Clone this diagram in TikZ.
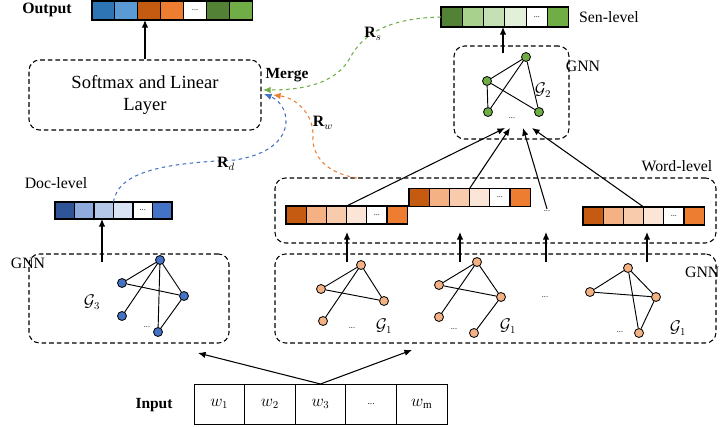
\documentclass[tikz,border=0pt]{standalone}
\usepackage{fontspec}
\setmainfont{Liberation Serif}
\usepackage{amsmath,amssymb}
\usetikzlibrary{arrows.meta}
\definecolor{dblue}{HTML}{2E75B6}
\definecolor{lblue}{HTML}{5B9BD5}
\definecolor{dorange}{HTML}{C55A11}
\definecolor{morange}{HTML}{ED7D31}
\definecolor{dgreen}{HTML}{538135}
\definecolor{mgreen}{HTML}{70AD47}
\definecolor{or1}{HTML}{F4B183}
\definecolor{or2}{HTML}{F8CBAD}
\definecolor{or3}{HTML}{FBE5D6}
\definecolor{gr1}{HTML}{A9D18E}
\definecolor{gr2}{HTML}{C5E0B4}
\definecolor{gr3}{HTML}{E2F0D9}
\definecolor{bl0}{HTML}{2F5597}
\definecolor{bl1}{HTML}{8FAADC}
\definecolor{bl2}{HTML}{B4C7E7}
\definecolor{bl3}{HTML}{DAE3F3}
\definecolor{bl4}{HTML}{4472C4}
\newcommand{\celldots}{...}

\begin{document}
\begin{tikzpicture}[x=0.03cm, y=-0.03cm, thick,
        every node/.style={font=\fontsize{13.5}{16}\selectfont, inner sep=1pt},
        cell/.style={draw, line width=1pt, inner sep=0pt, outer sep=0pt,
            font=\fontsize{7}{8}\selectfont},
        dbox/.style={draw, line width=0.9pt, dash pattern=on 4pt off 2.5pt,
            rounded corners=9pt, inner sep=0pt},
        gnode/.style={circle, draw, line width=0.7pt, inner sep=0pt, minimum size=0.27cm},
        arr/.style={-{Latex[length=6.5pt,width=5.5pt]}, line width=0.9pt},
        curve/.style={-{Latex[length=6.5pt,width=5.5pt]}, line width=0.9pt, dashed},
        small/.style={font=\fontsize{7}{8}\selectfont}]
    \useasboundingbox (0,0) rectangle (722,427);

    % Output vector
    \node[font=\fontsize{13.5}{16}\selectfont\bfseries] (outlabel) at (47,10) {Output};
    \foreach \c/\t [count=\i] in {dblue/{}, lblue/{}, dorange/{}, morange/{}, white/\celldots, dgreen/{}, mgreen/{}}
        \node[cell, fill=\c, minimum width=0.687cm, minimum height=0.57cm] (out\i) at ({92+22.9*(\i-0.5)},10.5) {\t};

    % Softmax box
    \node[dbox, minimum width=6.96cm, minimum height=2.1cm, align=center,
        font=\fontsize{15.8}{19}\selectfont] (softmax) at (145,95) {Softmax and Linear\\Layer};
    \draw[arr] (softmax.north) -- (softmax.north |- out3.south);
    \node[font=\fontsize{13.2}{16}\selectfont\bfseries] (merge) at (287,75) {Merge};

    % Sen-level vector and G2
    \foreach \c/\t [count=\i] in {dgreen/{}, gr1/{}, gr2/{}, gr3/{}, white/\celldots, mgreen/{}}
        \node[cell, fill=\c, minimum width=0.64cm, minimum height=0.6cm] (sen\i) at ({441+21.3*(\i-0.5)},17) {\t};
    \node (senlabel) at (609,17) {Sen-level};
    \node[dbox, minimum width=3.45cm, minimum height=2.79cm] (g2box) at (511.5,92.5) {};
    \node (gnntop) at (583,66) {GNN};
    \coordinate (g2tail) at (503,53);
    \draw[arr] (g2tail) -- (g2tail |- sen1.south);
    \node[gnode, fill=mgreen] (ge1) at (526,57) {};
    \node[gnode, fill=mgreen] (ge2) at (487,81) {};
    \node[gnode, fill=mgreen] (ge3) at (488,112) {};
    \node[gnode, fill=mgreen] (ge4) at (539,112) {};
    \foreach \a/\b in {ge1/ge2, ge1/ge3, ge1/ge4, ge2/ge4, ge2/ge3}
        \draw[line width=0.8pt] (\a) -- (\b);
    \node[small] (gedots) at (512,118) {\celldots};
    \node (g2label) at (543,90) {$\mathcal{G}_2$};

    % Word-level vectors
    \node[dbox, minimum width=13.23cm, minimum height=1.95cm] (wordbox) at (495.5,210.5) {};
    \node (wordlabel) at (677,166) {Word-level};
    \foreach \v/\x/\y in {wa/286/215, wb/409/197.5, wc/583/216}
        \foreach \c/\t [count=\i] in {dorange/{}, or1/{}, or2/{}, or3/{}, white/\celldots, morange/{}}
            \node[cell, fill=\c, minimum width=0.606cm, minimum height=0.54cm] (\v\i) at ({\x+20.2*(\i-0.5)},\y) {\t};
    \node[small] (wdots) at (547,211) {\celldots};

    % Word vectors into G2
    \coordinate (t1) at (505,128);
    \coordinate (t2) at (510,128);
    \coordinate (t3) at (523,128);
    \coordinate (t4) at (532,128);
    \draw[arr] (wa4.north west) -- (t1);
    \draw[arr] (wb4.north west) -- (t2);
    \draw[arr] (wdots.north) -- (t3);
    \draw[arr] (wc4.north west) -- (t4);

    % GNN box with G1
    \node[dbox, minimum width=13.23cm, minimum height=2.67cm] (gnnbox) at (495.5,298.5) {};
    \node[anchor=east] (gnnright) at (721,272) {GNN};
    \foreach \x [count=\i] in {347, 460, 546, 647} {
        \coordinate (up\i) at (\x,262);
        \draw[arr] (up\i) -- ++(0,-30);
    }
    \node[gnode, fill=or1] (ga1) at (361,265) {};
    \node[gnode, fill=or1] (ga2) at (321,289) {};
    \node[gnode, fill=or1] (ga3) at (384,301) {};
    \node[gnode, fill=or1] (ga4) at (323,321) {};
    \node[gnode, fill=or1] (gb1) at (477,262) {};
    \node[gnode, fill=or1] (gb2) at (439,285) {};
    \node[gnode, fill=or1] (gb3) at (501,297) {};
    \node[gnode, fill=or1] (gb4) at (439,317) {};
    \node[gnode, fill=or1] (gb5) at (474,333) {};
    \node[gnode, fill=or1] (gc1) at (628,268) {};
    \node[gnode, fill=or1] (gc2) at (590,292) {};
    \node[gnode, fill=or1] (gc3) at (656,297) {};
    \node[gnode, fill=or1] (gc4) at (639,333) {};
    \foreach \a/\b in {ga1/ga2, ga1/ga3, ga2/ga3, ga1/ga4,
                      gb1/gb2, gb1/gb3, gb2/gb3, gb1/gb4, gb3/gb5,
                      gc1/gc2, gc2/gc3, gc1/gc3, gc1/gc4, gc3/gc4}
        \draw[line width=0.8pt] (\a) -- (\b);
    \node[small] (gadots) at (352,328) {\celldots};
    \node[small] (gbdots) at (454,329) {\celldots};
    \node[small] (gcdots) at (620,332) {\celldots};
    \node[small] (gmid) at (545,297) {\celldots};
    \node (g1a) at (384,326) {$\mathcal{G}_1$};
    \node (g1b) at (508,326) {$\mathcal{G}_1$};
    \node (g1c) at (678,328) {$\mathcal{G}_1$};

    % Doc-level and G3
    \node (doclabel) at (56,183) {Doc-level};
    \foreach \c/\t [count=\i] in {bl0/{}, bl1/{}, bl2/{}, bl3/{}, white/\celldots, bl4/{}}
        \node[cell, fill=\c, minimum width=0.585cm, minimum height=0.51cm] (doc\i) at ({55+19.5*(\i-0.5)},210.5) {\t};
    \node[dbox, minimum width=6cm, minimum height=2.67cm] (g3box) at (129,298.5) {};
    \node (gnnleft) at (28,263) {GNN};
    \coordinate (doctail) at (102,262);
    \draw[arr] (doctail) -- (doctail |- doc1.south);
    \node[gnode, fill=bl4] (gd1) at (160,260) {};
    \node[gnode, fill=bl4] (gd2) at (122,283) {};
    \node[gnode, fill=bl4] (gd3) at (184,296) {};
    \node[gnode, fill=bl4] (gd4) at (122,316) {};
    \node[gnode, fill=bl4] (gd5) at (158,332) {};
    \foreach \a/\b in {gd1/gd2, gd1/gd3, gd1/gd4, gd1/gd5, gd2/gd3, gd3/gd5}
        \draw[line width=0.8pt] (\a) -- (\b);
    \node[small] (gddots) at (147,327) {\celldots};
    \node (g3label) at (92,302) {$\mathcal{G}_3$};

    % Merge curves
    \coordinate (mg) at (263,90);
    \coordinate (mb) at (264,94);
    \coordinate (mo) at (273,95);
    \coordinate (wordtop) at (357,178);
    \draw[curve, mgreen] (sen1.west) .. controls (395,18) and (365,30) .. (350,58)
        .. controls (335,85) and (300,90) .. (mg);
    \draw[curve, bl4] (doc3.north east) .. controls (118,170) and (170,163) .. (235,160)
        .. controls (300,150) and (292,105) .. (mb);
    \draw[curve, morange] (wordtop) .. controls (320,172) and (312,150) .. (313,137)
        .. controls (314,115) and (297,98) .. (mo);
    \node (rs) at (373,34) {$\mathbf{R}_s$};
    \node (rd) at (226,164) {$\mathbf{R}_d$};
    \node (rw) at (323,123) {$\mathbf{R}_w$};

    % Input
    \node[font=\fontsize{13.2}{16}\selectfont\bfseries] (inlabel) at (154,405) {Input};
    \foreach \t [count=\i] in {$w_1$, $w_2$, $w_3$, {\fontsize{8}{9}\selectfont\celldots}, $w_{\mathrm{m}}$}
        \node[cell, fill=white, line width=0.8pt, minimum width=1.518cm, minimum height=1.2cm,
            font=\fontsize{13.5}{16}\selectfont] (in\i) at ({194+50.6*(\i-0.5)},404) {\t};
    \coordinate (inl) at (198,353);
    \coordinate (inr) at (412,350);
    \draw[arr] (in3.north) -- (inl);
    \draw[arr] (in3.north) -- (inr);
\end{tikzpicture}
\end{document}
